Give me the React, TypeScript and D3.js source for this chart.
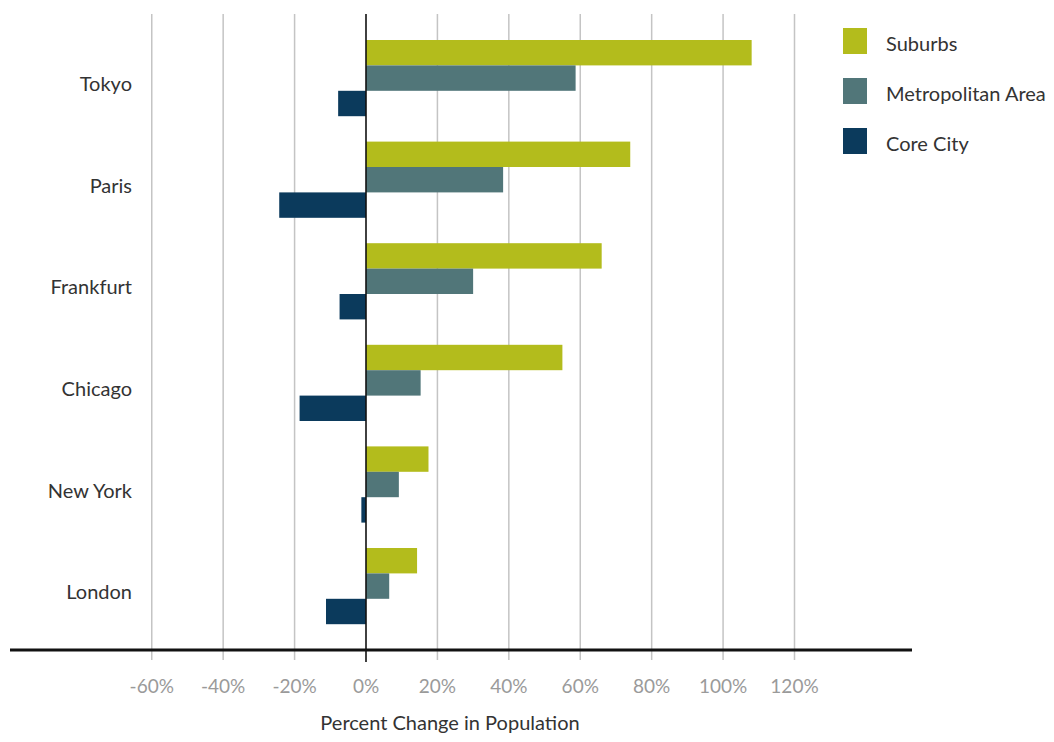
import React from "react";
import * as d3 from "d3";

// Population change by city, percent
const cities = ["Tokyo", "Paris", "Frankfurt", "Chicago", "New York", "London"];
const suburbs = [108, 74, 66, 55, 17.5, 14.3];
const metropolitan = [58.7, 38.4, 30, 15.3, 9.2, 6.5];
const coreCity = [-7.8, -24.3, -7.4, -18.6, -1.3, -11.2];
const seriesNames = ["Suburbs", "Metropolitan Area", "Core City"];
const seriesColors = ["#b3bc1c", "#517679", "#0b3a5c"];
const tickValues = [-60, -40, -20, 0, 20, 40, 60, 80, 100, 120];

const W = 1054;
const H = 742;
const FONT = "Lato, 'Open Sans', sans-serif";

export default function App() {
  const x = d3.scaleLinear().domain([0, 120]).range([366, 794.5]);
  const y = d3
    .scaleBand<string>()
    .domain(cities)
    .range([40, 624.2])
    .paddingInner(0.25)
    .paddingOuter(0);
  const sub = d3
    .scaleBand<string>()
    .domain(seriesNames)
    .range([0, y.bandwidth()]);

  const series = [suburbs, metropolitan, coreCity];
  const axisY = 650;
  const gridTop = 14;

  return (
    <svg
      width={W}
      height={H}
      style={{ position: "absolute", left: 0, top: 0, background: "#fff" }}
      fontFamily={FONT}
    >
      {/* vertical gridlines */}
      {tickValues
        .filter((t) => t !== 0)
        .map((t) => (
          <line
            key={t}
            x1={x(t)}
            x2={x(t)}
            y1={gridTop}
            y2={axisY + 10}
            stroke="#c4c4c4"
            strokeWidth={1.5}
          />
        ))}

      {/* bars */}
      {cities.map((c, i) =>
        series.map((vals, s) => {
          const v = vals[i];
          const x0 = x(Math.min(0, v));
          const x1 = x(Math.max(0, v));
          return (
            <rect
              key={c + s}
              x={x0}
              y={(y(c) ?? 0) + (sub(seriesNames[s]) ?? 0)}
              width={x1 - x0}
              height={sub.bandwidth()}
              fill={seriesColors[s]}
            />
          );
        })
      )}

      {/* zero line */}
      <line x1={x(0)} x2={x(0)} y1={gridTop} y2={axisY + 12} stroke="#111" strokeWidth={1.6} />

      {/* horizontal axis line */}
      <line x1={10} x2={912} y1={axisY} y2={axisY} stroke="#111" strokeWidth={3} />

      {/* category labels */}
      {cities.map((c) => (
        <text
          key={c}
          x={132}
          y={(y(c) ?? 0) + y.bandwidth() / 2 + 13}
          textAnchor="end"
          fontSize={20}
          fill="#333"
        >
          {c}
        </text>
      ))}

      {/* tick labels */}
      {tickValues.map((t) => (
        <text
          key={t}
          x={x(t)}
          y={693}
          textAnchor="middle"
          fontSize={19}
          fill="#9a9a9a"
        >
          {`${t}%`}
        </text>
      ))}

      {/* axis title */}
      <text x={450} y={730} textAnchor="middle" fontSize={20} fill="#333">
        Percent Change in Population
      </text>

      {/* legend */}
      {seriesNames.map((n, s) => (
        <g key={n} transform={`translate(843, ${28 + s * 50})`}>
          <rect width={24} height={26} fill={seriesColors[s]} />
          <text x={43} y={23} fontSize={20} fill="#333">
            {n}
          </text>
        </g>
      ))}
    </svg>
  );
}
